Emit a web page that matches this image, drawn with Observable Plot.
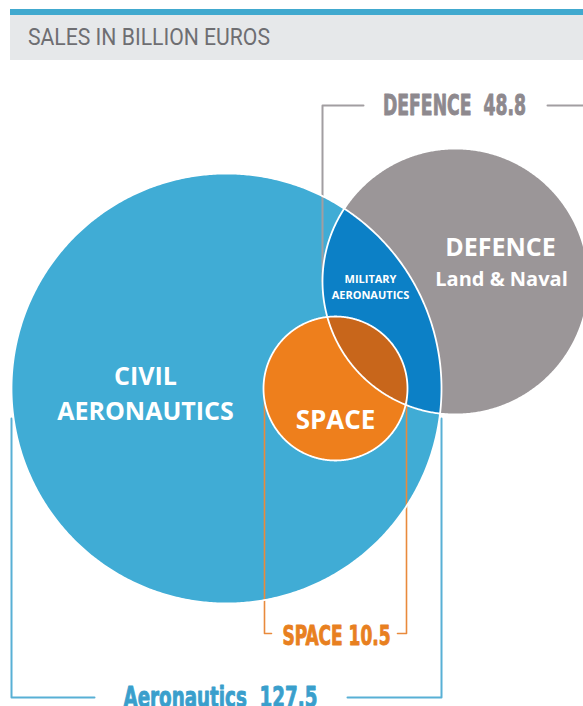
<!DOCTYPE html>
<html>
<head>
<meta charset="utf-8">
<script src="https://cdn.jsdelivr.net/npm/d3@7"></script>
<script src="https://cdn.jsdelivr.net/npm/@observablehq/plot@0.6"></script>
<style>
  html, body { margin: 0; padding: 0; background: #fff; }
  #header { position: relative; width: 583px; height: 60px; }
  #bar { position: absolute; left: 10px; top: 9px; width: 573px; height: 6px; background: #41a9cf; }
  #box { position: absolute; left: 10px; top: 15px; width: 573px; height: 45px; background: #e6e8ea; }
  #title { position: absolute; left: 28px; top: 15px; line-height: 45px; font-family: Roboto, "DejaVu Sans", sans-serif; font-weight: 400; font-size: 24px; color: #6e6e72; white-space: nowrap; transform-origin: 0 50%; }
  #chart svg { display: block; overflow: visible; }
</style>
</head>
<body>
<div id="header"><div id="bar"></div><div id="box"></div><div id="title">SALES IN BILLION EUROS</div></div>
<div id="chart"></div>
<script>
// ---- data ----
const segments = ["Aeronautics", "Defence", "Space"];
const sales = [127.5, 48.8, 10.5];
const bracketNames = ["Aeronautics", "DEFENCE", "SPACE"];
const regionLabels = ["CIVIL", "AERONAUTICS", "DEFENCE", "Land & Naval", "MILITARY", "AERONAUTICS", "SPACE"];

// ---- layout (page pixel coordinates) ----
const circles = [
  {cx: 226, cy: 388, r: 215}, // Aeronautics
  {cx: 455, cy: 281, r: 133}, // Defence
  {cx: 335, cy: 388, r: 72}   // Space
];
const fills = ["#40acd5", "#9b9698", "#ee7f1c"];
const lensFill = "#0c80c6";
const lens2Fill = "#c8661b";

function circlePts(c, n = 720) {
  return d3.range(n).map(i => {
    const a = (i / n) * 2 * Math.PI;
    return [c.cx + c.r * Math.cos(a), c.cy + c.r * Math.sin(a)];
  });
}
function inside(p, c) { return Math.hypot(p[0] - c.cx, p[1] - c.cy) <= c.r + 0.01; }
function intersection(cs) {
  let pts = [];
  cs.forEach((c, i) => {
    circlePts(c, 1440).forEach(p => {
      if (cs.every((o, j) => j === i || inside(p, o))) pts.push(p);
    });
  });
  const mx = d3.mean(pts, p => p[0]), my = d3.mean(pts, p => p[1]);
  pts.sort((a, b) => Math.atan2(a[1] - my, a[0] - mx) - Math.atan2(b[1] - my, b[0] - mx));
  return pts;
}
const shapes = circles.map(c => circlePts(c, 720));
const lens = intersection([circles[0], circles[1]]);
const lens2 = intersection([circles[0], circles[1], circles[2]]);

// brackets (derived from circle extents)
const A = circles[0], D = circles[1], S = circles[2];
const bracketDef = [
  {id: 0, pts: [[D.cx - D.r, D.cy], [D.cx - D.r, 105], [363, 105]]},
  {id: 1, pts: [[547, 105], [583, 105]]}
];
const bracketSpace = [
  {id: 0, pts: [[S.cx - S.r + 1, S.cy], [S.cx - S.r + 1, 633], [271, 633]]},
  {id: 1, pts: [[397, 633], [S.cx + S.r - 1, 633], [S.cx + S.r - 1, S.cy]]}
];
const bracketAero = [
  {id: 0, pts: [[A.cx - A.r, 418], [A.cx - A.r, 697], [94, 697]]},
  {id: 1, pts: [[347, 697], [A.cx + A.r, 697], [A.cx + A.r, 418]]}
];
const flat = arr => arr.flatMap(b => b.pts.map(p => ({id: b.id, x: p[0], y: p[1]})));

const fmt = d => d.toFixed(1);
const bracketLabels = [
  {text: bracketNames[1] + "  " + fmt(sales[1]), x: 454, y: 114, size: 29, color: "#8e898e", w: 143},
  {text: bracketNames[2] + " " + fmt(sales[2]), x: 336, y: 644, size: 26, color: "#e8801f", w: 108},
  {text: bracketNames[0] + "  " + fmt(sales[0]), x: 220, y: 706, size: 28, color: "#3a9fcc", w: 194}
];
const labelPos = [
  {x: 145, y: 384, size: 25}, {x: 145, y: 419, size: 25},
  {x: 500, y: 255, size: 25}, {x: 501, y: 285, size: 20},
  {x: 370, y: 282, size: 11}, {x: 370, y: 298, size: 11},
  {x: 335, y: 428, size: 26}
];
const labels = regionLabels.map((t, i) => ({text: t, ...labelPos[i]}));

const poly = (pts, fill) => Plot.line(pts, {x: d => d[0], y: d => d[1], fill, stroke: "none", curve: "linear-closed"});
const outline = (pts) => Plot.line(pts, {x: d => d[0], y: d => d[1], fill: "none", stroke: "white", strokeWidth: 1.8, curve: "linear-closed"});
const bracket = (arr, color, w) => Plot.line(flat(arr), {x: "x", y: "y", z: "id", stroke: color, strokeWidth: w, curve: "linear"});

const marks = [
  poly(shapes[0], fills[0]),
  bracket(bracketDef, "#a29ea1", 2),
  bracket(bracketAero, "#58b0d5", 2),
  poly(shapes[1], fills[1]),
  poly(lens, lensFill),
  bracket(bracketSpace, "#e98a3c", 1.6),
  poly(shapes[2], fills[2]),
  poly(lens2, lens2Fill),
  outline(shapes[0]),
  outline(shapes[1]),
  outline(shapes[2]),
  ...labels.map(l => Plot.text([l], {x: "x", y: "y", text: "text", fill: "white", fontSize: l.size, fontWeight: 700, fontFamily: "Open Sans, sans-serif", textAnchor: "middle", lineAnchor: "bottom"})),
  ...bracketLabels.map((l, i) => Plot.text([l], {x: "x", y: "y", text: "text", fill: l.color, stroke: l.color, strokeWidth: 0.9, fontSize: l.size, fontWeight: 700, fontFamily: "'DejaVu Sans Condensed', 'DejaVu Sans', sans-serif", textAnchor: "middle", lineAnchor: "bottom"}))
];

const chart = Plot.plot({
  width: 583,
  height: 646,
  margin: 0,
  x: {domain: [0, 583], range: [0, 583], axis: null},
  y: {domain: [60, 706], range: [0, 646], axis: null},
  style: {background: "transparent", overflow: "visible"},
  marks
});
document.getElementById("chart").appendChild(chart);

// condense the bracket labels to the reference widths
d3.select(chart).selectAll("text").each(function () {
  const txt = this.textContent.replace(/\s+/g, " ").trim();
  const l = bracketLabels.find(b => b.text.replace(/\s+/g, " ").trim() === txt);
  if (l) {
    this.setAttribute("textLength", l.w);
    this.setAttribute("lengthAdjust", "spacingAndGlyphs");
    this.setAttribute("xml:space", "preserve");
    this.style.whiteSpace = "pre";
  }
});

// fit the title to the reference width
const title = document.getElementById("title");
const tw = title.getBoundingClientRect().width;
title.style.transform = `scaleX(${242 / tw})`;
</script>
</body>
</html>
